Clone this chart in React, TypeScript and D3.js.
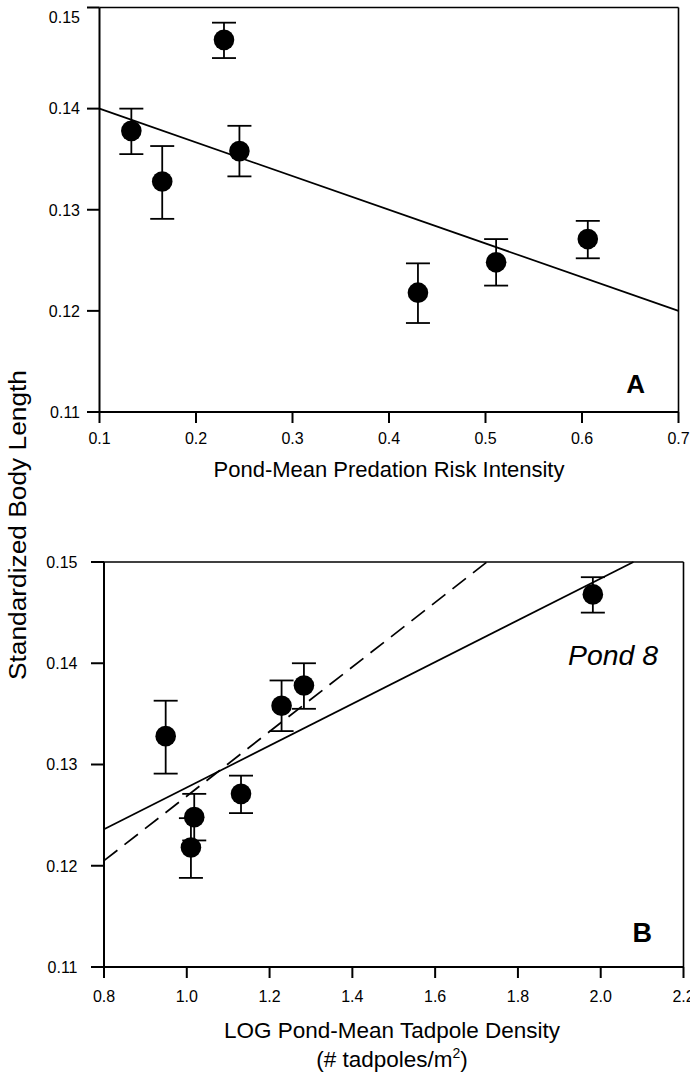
import React from "react";
import * as d3 from "d3";

// pond means (same 7 ponds in both panels)
const riskX = [0.133, 0.165, 0.229, 0.245, 0.43, 0.511, 0.606];
const densityX = [1.283, 0.949, 1.981, 1.229, 1.01, 1.018, 1.131];
const bodyLength = [0.1378, 0.1328, 0.1468, 0.1358, 0.1218, 0.1248, 0.1271];
const errUpper = [0.14, 0.1363, 0.1485, 0.1383, 0.1247, 0.1271, 0.1289];
const errLower = [0.1355, 0.1291, 0.145, 0.1333, 0.1188, 0.1225, 0.1252];

// regression lines (endpoints)
const fitA = [
  [0.1, 0.14],
  [0.7, 0.12],
];
const fitBSolid = [
  [0.8, 0.1236],
  [2.079, 0.15],
];
const fitBDashed = [
  [0.8, 0.1205],
  [1.725, 0.15],
];

const ticksY = [0.11, 0.12, 0.13, 0.14, 0.15];
const ticksAX = [0.1, 0.2, 0.3, 0.4, 0.5, 0.6, 0.7];
const ticksBX = [0.8, 1.0, 1.2, 1.4, 1.6, 1.8, 2.0, 2.2];

const font = "'Liberation Sans', Arial, Helvetica, sans-serif";

type PanelProps = {
  xs: number[];
  xTicks: number[];
  xRange: [number, number];
  yRange: [number, number];
  yLabelRight: number;
  yTickStart: number;
  xLabelY: number;
  fits: { pts: number[][]; dash?: string }[];
  clampTop?: boolean;
};

const Panel = ({
  xs,
  xTicks,
  xRange,
  yRange,
  yLabelRight,
  yTickStart,
  xLabelY,
  fits,
  clampTop,
}: PanelProps) => {
  const x = d3
    .scaleLinear()
    .domain([xTicks[0], xTicks[xTicks.length - 1]])
    .range(xRange);
  const y = d3.scaleLinear().domain([0.11, 0.15]).range(yRange);
  const line = d3
    .line<number[]>()
    .x((d) => x(d[0]))
    .y((d) => y(d[1]));

  const [x0, x1] = xRange;
  const [yb, yt] = yRange;
  const cap = 12;

  return (
    <g>
      {/* frame */}
      <line x1={x0} x2={x1} y1={yt} y2={yt} stroke="#000" strokeWidth={1.6} />
      <line x1={x1} x2={x1} y1={yt} y2={yb} stroke="#000" strokeWidth={1.6} />
      <line x1={x0} x2={x0} y1={yt} y2={yb} stroke="#000" strokeWidth={2} />
      <line x1={x0} x2={x1} y1={yb} y2={yb} stroke="#000" strokeWidth={2.2} />

      {/* y ticks */}
      {ticksY.map((t) => (
        <g key={t}>
          <line x1={yTickStart} x2={x0} y1={y(t)} y2={y(t)} stroke="#000" strokeWidth={2} />
          <text
            x={yLabelRight}
            y={clampTop ? Math.max(y(t), 17) : y(t)}
            dy="0.36em"
            textAnchor="end"
            fontSize={16}
            fontFamily={font}
          >
            {d3.format(".2f")(t)}
          </text>
        </g>
      ))}

      {/* x ticks */}
      {xTicks.map((t) => (
        <g key={t}>
          <line x1={x(t)} x2={x(t)} y1={yb} y2={yb + 11} stroke="#000" strokeWidth={2} />
          <text
            x={x(t)}
            y={xLabelY}
            textAnchor="middle"
            fontSize={16}
            fontFamily={font}
          >
            {d3.format(".1f")(t)}
          </text>
        </g>
      ))}

      {/* fits */}
      {fits.map((f, i) => (
        <path
          key={i}
          d={line(f.pts) || ""}
          fill="none"
          stroke="#000"
          strokeWidth={1.7}
          strokeDasharray={f.dash}
        />
      ))}

      {/* error bars */}
      {xs.map((v, i) => (
        <g key={i} stroke="#000" strokeWidth={1.8}>
          <line x1={x(v)} x2={x(v)} y1={y(errUpper[i])} y2={y(errLower[i])} />
          <line x1={x(v) - cap} x2={x(v) + cap} y1={y(errUpper[i])} y2={y(errUpper[i])} />
          <line x1={x(v) - cap} x2={x(v) + cap} y1={y(errLower[i])} y2={y(errLower[i])} />
        </g>
      ))}

      {/* points */}
      {xs.map((v, i) => (
        <circle key={i} cx={x(v)} cy={y(bodyLength[i])} r={10.3} fill="#000" />
      ))}
    </g>
  );
};

const App = () => {
  return (
    <svg
      width={690}
      height={1073}
      style={{ position: "absolute", left: 0, top: 0, background: "#fff" }}
    >
      <Panel
        xs={riskX}
        xTicks={ticksAX}
        xRange={[99.5, 678.5]}
        yRange={[412, 7.5]}
        yLabelRight={80}
        yTickStart={87}
        xLabelY={444}
        fits={[{ pts: fitA }]}
        clampTop
      />
      <text x={645} y={393} textAnchor="end" fontSize={26} fontWeight="bold" fontFamily={font}>
        A
      </text>
      <text x={389} y={477} textAnchor="middle" fontSize={22} fontFamily={font}>
        Pond-Mean Predation Risk Intensity
      </text>

      <Panel
        xs={densityX}
        xTicks={ticksBX}
        xRange={[104, 683.5]}
        yRange={[967, 562]}
        yLabelRight={77.5}
        yTickStart={91}
        xLabelY={1002}
        fits={[{ pts: fitBSolid }, { pts: fitBDashed, dash: "17,9" }]}
      />
      <text x={652} y={942} textAnchor="end" fontSize={27} fontWeight="bold" fontFamily={font}>
        B
      </text>
      <text
        x={568}
        y={665}
        fontSize={27}
        fontStyle="italic"
        fontFamily={font}
        textLength={90}
        lengthAdjust="spacingAndGlyphs"
      >
        Pond 8
      </text>
      <text x={392} y={1038} textAnchor="middle" fontSize={22.5} fontFamily={font}>
        LOG Pond-Mean Tadpole Density
      </text>
      <text x={392} y={1067} textAnchor="middle" fontSize={22.5} fontFamily={font}>
        (# tadpoles/m
        <tspan fontSize={14} dy={-9}>
          2
        </tspan>
        <tspan dy={9}>)</tspan>
      </text>

      <text
        transform="translate(25.5,525) rotate(-90)"
        textAnchor="middle"
        fontSize={23}
        fontFamily={font}
        textLength={310}
        lengthAdjust="spacingAndGlyphs"
      >
        Standardized Body Length
      </text>
    </svg>
  );
};

export default App;
